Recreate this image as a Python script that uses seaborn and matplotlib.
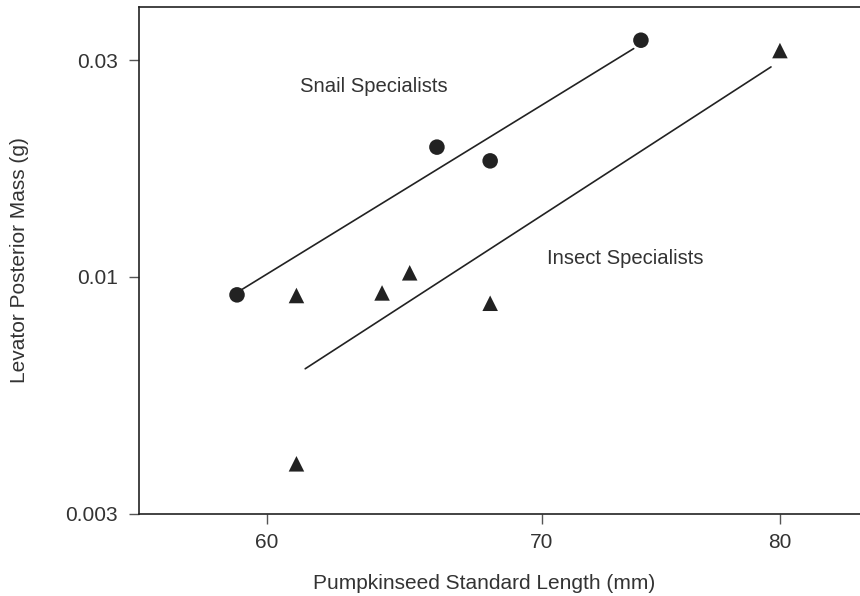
import numpy as np
import pandas as pd
import matplotlib
matplotlib.use("Agg")
import matplotlib.pyplot as plt
import seaborn as sns
from matplotlib.ticker import FixedLocator, NullLocator

# Data
snail_length = [59.0, 66.0, 68.0, 74.0]
snail_mass = [0.00912, 0.0193, 0.0180, 0.0332]
insect_length = [61.0, 64.0, 65.0, 68.0, 61.0, 80.0]
insect_mass = [0.00909, 0.00921, 0.0102, 0.00874, 0.00387, 0.0315]
snail_line_range = [59.0, 73.7]
insect_line_range = [61.3, 79.6]
x_ticks = [60, 70, 80]
y_ticks = [0.003, 0.01, 0.03]
y_tick_labels = ["0.003", "0.01", "0.03"]

sns.set_theme(style="white")
plt.rcParams['font.family'] = ['Liberation Sans', 'DejaVu Sans']

ink = "#222222"
txt = "#333333"

fig = plt.figure(figsize=(8.6, 5.96), dpi=100)
ax = fig.add_axes([0.1616, 0.1376, 0.8384 + 0.05, 0.8507])

df = pd.DataFrame({
    "length": snail_length + insect_length,
    "mass": snail_mass + insect_mass,
    "group": ["Snail"] * len(snail_length) + ["Insect"] * len(insect_length),
})

def fit_line(xs, ys, rng):
    b, a = np.polyfit(np.log(xs), np.log(ys), 1)
    lx = np.array(rng)
    return pd.DataFrame({"length": lx, "mass": np.exp(a + b * np.log(lx))})

sline = fit_line(snail_length, snail_mass, snail_line_range)
iline = fit_line(insect_length, insect_mass, insect_line_range)

sns.lineplot(data=sline, x="length", y="mass", ax=ax, color=ink, lw=1.2)
sns.lineplot(data=iline, x="length", y="mass", ax=ax, color=ink, lw=1.2)
sns.scatterplot(data=df, x="length", y="mass", style="group",
                markers={"Snail": "o", "Insect": "^"}, color=ink,
                s=125, edgecolor="none", ax=ax, legend=False, zorder=3)

ax.set_xscale("log")
ax.set_yscale("log")
xmin = 60 * np.exp(-(267 - 139) / 1783)
xmax = 60 * np.exp((860 + 43 - 267) / 1783)
ax.set_xlim(xmin, xmax)
ax.set_ylim(0.003, 0.0393)

ax.xaxis.set_major_locator(FixedLocator(x_ticks))
ax.xaxis.set_minor_locator(NullLocator())
ax.set_xticklabels([str(t) for t in x_ticks])
ax.yaxis.set_major_locator(FixedLocator(y_ticks))
ax.yaxis.set_minor_locator(NullLocator())
ax.set_yticklabels(y_tick_labels)

ax.tick_params(axis="both", which="major", direction="out", length=7, width=1.0,
               color="#555555", labelsize=15, labelcolor=txt, pad=8,
               left=True, bottom=True)
ax.tick_params(axis="x", pad=7)

for side in ["left", "top", "bottom"]:
    ax.spines[side].set_visible(True)
    ax.spines[side].set_color(ink)
    ax.spines[side].set_linewidth(1.2)
ax.spines["right"].set_visible(False)

ax.set_xlabel("Pumpkinseed Standard Length (mm)", fontsize=15, color=txt, labelpad=17)
ax.set_ylabel("Levator Posterior Mass (g)", fontsize=15, color=txt, labelpad=26)
# centre the x label under the visible part of the axis
ax.xaxis.set_label_coords((484.5 - 139) / (0.8884 * 860), -0.118)

ax.annotate("Snail Specialists", xy=(300 / 860, 1 - 87 / 596), xycoords="figure fraction",
            fontsize=14.6, color=txt, va="center", ha="left")
ax.annotate("Insect Specialists", xy=(547 / 860, 1 - 259 / 596), xycoords="figure fraction",
            fontsize=14.6, color=txt, va="center", ha="left")

fig.savefig("out.png", dpi=100)
